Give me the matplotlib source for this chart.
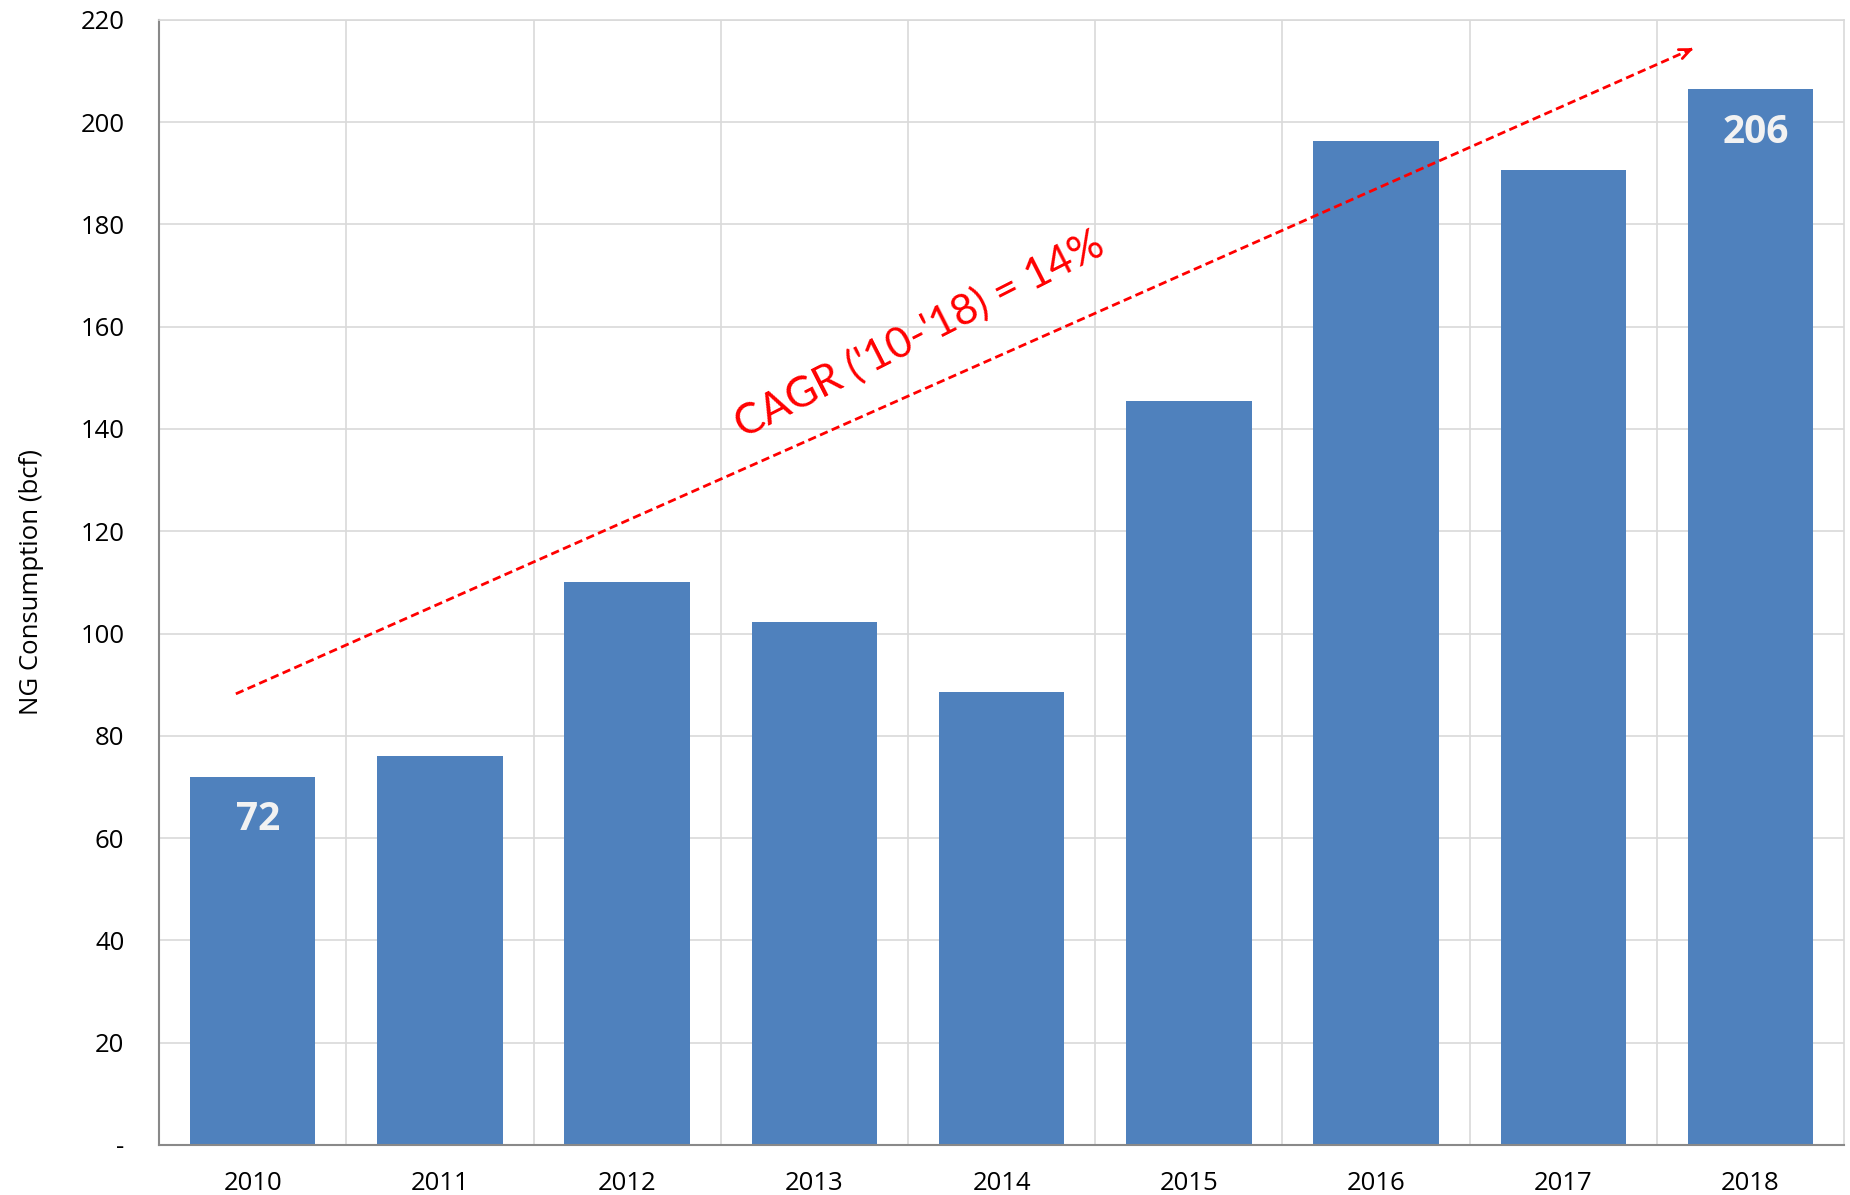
import matplotlib
matplotlib.use("Agg")
import matplotlib.pyplot as plt
import numpy as np

years = ["2010", "2011", "2012", "2013", "2014", "2015", "2016", "2017", "2018"]
consumption = [72, 76, 110, 102.3, 88.6, 145.4, 196.4, 190.7, 206.4]
label_values = {0: "72", 8: "206"}
y_ticks = [0, 20, 40, 60, 80, 100, 120, 140, 160, 180, 200, 220]
y_tick_labels = ["-"] + [str(v) for v in y_ticks[1:]]
cagr_text = "CAGR ('10-'18) = 14%"
arrow_start = (-0.09, 88.2)
arrow_end = (7.71, 214.7)

BAR = "#4F81BD"
GRID = "#D9D9D9"

fig = plt.figure(figsize=(18.5, 11.95), dpi=100)
ax = fig.add_axes([0.086, 0.042, 0.9108, 0.9413])

x = np.arange(len(years))
ax.bar(x, consumption, width=0.67, color=BAR, zorder=2)

ax.set_xlim(-0.5, len(years) - 0.5)
ax.set_ylim(0, 220)
ax.set_yticks(y_ticks)
ax.set_yticklabels(y_tick_labels, fontfamily="Open Sans", fontsize=18.5)
ax.set_xticks(x)
ax.set_xticklabels(years, fontfamily="Open Sans", fontsize=18.5)
ax.set_xticks(np.arange(len(years) - 1) + 0.5, minor=True)
ax.tick_params(axis="both", which="both", length=0)
ax.tick_params(axis="y", pad=25)
ax.tick_params(axis="x", pad=19)

ax.grid(axis="y", which="major", color=GRID, lw=1.2, zorder=0)
ax.grid(axis="x", which="minor", color=GRID, lw=1.2, zorder=0)
ax.grid(axis="x", which="major", visible=False)

for side in ["top", "right"]:
    ax.spines[side].set_color(GRID)
    ax.spines[side].set_linewidth(1.2)
for side in ["left", "bottom"]:
    ax.spines[side].set_color("#898989")
    ax.spines[side].set_linewidth(1.5)

ax.set_ylabel("NG Consumption (bcf)", fontfamily="Open Sans", fontsize=18.5, labelpad=26)

for i, txt in label_values.items():
    ax.annotate(txt, xy=(x[i], consumption[i]), xytext=(4, -31), textcoords="offset points",
                ha="center", va="center", fontsize=28, fontweight="bold",
                fontfamily="Open Sans", color="#F2F2F2", zorder=3)

# trend arrow
ax.plot([arrow_start[0], arrow_end[0]], [arrow_start[1], arrow_end[1]],
        color="red", lw=2.0, ls=(0, (3, 1.6)), zorder=4)
ax.annotate("", xy=arrow_end,
            xytext=(arrow_end[0] - 0.05, arrow_end[1] - 0.05 * (arrow_end[1] - arrow_start[1]) / (arrow_end[0] - arrow_start[0])),
            arrowprops=dict(arrowstyle="->,head_length=0.8,head_width=0.35", color="red", lw=2.0),
            zorder=4)

ax.text(3.56, 158.6, cagr_text, rotation=27, rotation_mode="anchor",
        ha="center", va="center", fontsize=30.5, color="red", fontfamily="Lato")

fig.savefig("out.png", dpi=100)
